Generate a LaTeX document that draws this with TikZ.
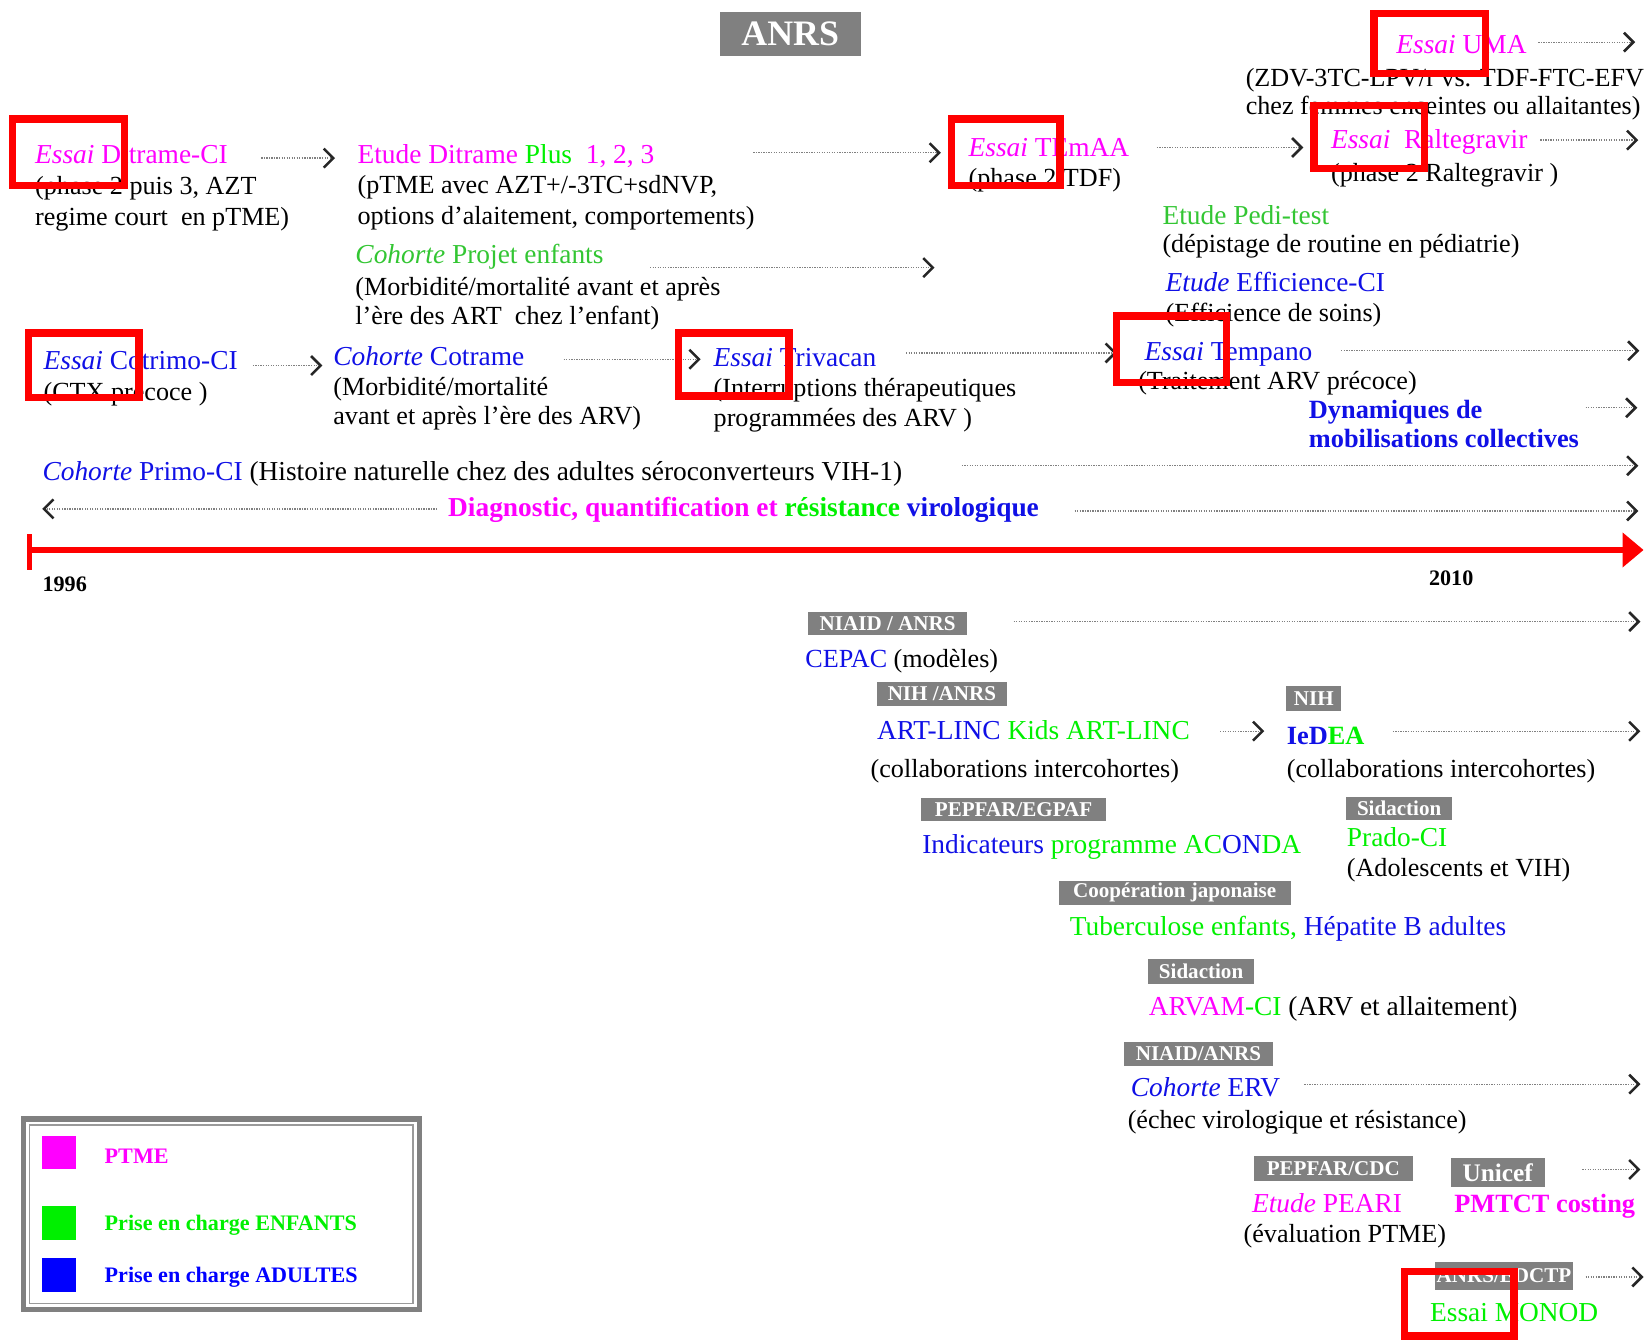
\documentclass[tikz,border=0pt]{standalone}
\usepackage{fontspec}
\setmainfont{Liberation Serif}
\usetikzlibrary{arrows.meta}
\definecolor{mag}{HTML}{FF00FF}
\definecolor{grn}{HTML}{00F000}
\definecolor{dgrn}{HTML}{33C633}
\definecolor{blu}{HTML}{1010E6}
\definecolor{pblu}{HTML}{0000FF}
\definecolor{lblgray}{HTML}{808080}
\begin{document}
\begin{tikzpicture}[x=0.5pt,y=-0.5pt,
 txt/.style={anchor=base west, inner sep=0pt, font=\fontsize{12.4}{15}\selectfont},
 hd/.style={anchor=base west, inner sep=0pt, font=\fontsize{13}{15}\selectfont},
 bd/.style={anchor=base west, inner sep=0pt, font=\bfseries\fontsize{12.5}{15}\selectfont},
 yr/.style={anchor=base west, inner sep=0pt, font=\bfseries\fontsize{10.5}{12}\selectfont},
 leg/.style={anchor=base west, inner sep=0pt, font=\bfseries\fontsize{10.5}{12}\selectfont},
 lbl/.style={fill=lblgray, text=white, font=\bfseries\fontsize{10}{12}\selectfont, inner sep=0pt, anchor=center},
 redbox/.style={draw=red, line width=3.5pt},
 darr/.style={draw=black!50, line width=0.6pt, dash pattern=on 0.6pt off 0.6pt,
   -{Straight Barb[length=4.5pt,width=9pt,line width=1.2pt,color=black!85]}},
]
\useasboundingbox (0,0) rectangle (1568,1275);
\fill[white] (0,0) rectangle (1568,1275);

% title
\node[lbl, font=\bfseries\fontsize{17}{20}\selectfont, minimum width=67pt, minimum height=21pt] (anrs) at (750,32) {ANRS};

% ---------- upper part ----------
\node[hd, text=mag] (uma) at (1325,51) {\textit{Essai} UMA};
\node[txt] (uma1) at (1182,82) {(ZDV-3TC-LPV/r vs. TDF-FTC-EFV};
\node[txt] (uma2) at (1182,109) {chez femmes enceintes ou allaitantes)};

\node[hd, text=mag] (dit) at (33,155) {\textit{Essai} Ditrame-CI};
\node[txt] (dit1) at (33,185) {(phase 2 puis 3, AZT};
\node[txt] (dit2) at (33,214) {regime court\ \ en pTME)};

\node[hd, text=mag] (ditp) at (339,155) {Etude Ditrame \textcolor{grn}{Plus}\ \ 1, 2, 3};
\node[txt] (ditp1) at (339,184) {(pTME avec AZT+/-3TC+sdNVP,};
\node[txt] (ditp2) at (339,213) {options d’alaitement, comportements)};

\node[hd, text=mag] (tem) at (919,149) {\textit{Essai} TEmAA};
\node[txt] (tem1) at (919,177) {(phase 2 TDF)};

\node[hd, text=mag] (ral) at (1263,141) {\textit{Essai}\ \ Raltegravir};
\node[txt] (ral1) at (1263,172) {(phase 2 Raltegravir )};

\node[hd, text=dgrn] (proj) at (337,250) {\textit{Cohorte} Projet enfants};
\node[txt] (proj1) at (337,280) {(Morbidité/mortalité avant et après};
\node[txt] (proj2) at (337,308) {l’ère des ART\ \ chez l’enfant)};

\node[hd, text=dgrn] (pedi) at (1103,213) {Etude Pedi-test};
\node[txt] (pedi1) at (1103,240) {(dépistage de routine en pédiatrie)};

\node[hd, text=blu] (eff) at (1106,277) {\textit{Etude} Efficience-CI};
\node[txt] (eff1) at (1106,305) {(Efficience de soins)};

\node[hd, text=blu] (cot) at (41,351) {\textit{Essai} Cotrimo-CI};
\node[txt] (cot1) at (41,380) {(CTX précoce )};

\node[hd, text=blu] (ctr) at (316,347) {\textit{Cohorte} Cotrame};
\node[txt] (ctr1) at (316,375) {(Morbidité/mortalité};
\node[txt] (ctr2) at (316,403) {avant et après l’ère des ARV)};

\node[hd, text=blu] (tri) at (677,348) {\textit{Essai} Trivacan};
\node[txt] (tri1) at (677,376) {(Interruptions thérapeutiques};
\node[txt] (tri2) at (677,405) {programmées des ARV )};

\node[hd, text=blu] (tmp) at (1086,342) {\textit{Essai} Tempano};
\node[txt] (tmp1) at (1080,370) {(Traitement ARV précoce)};

\node[bd, text=blu] (dyn1) at (1242,397) {Dynamiques de};
\node[bd, text=blu] (dyn2) at (1242,425) {mobilisations collectives};

\node[hd] (primo) at (40,456) {\textcolor{blu}{\textit{Cohorte} Primo-CI} (Histoire naturelle chez des adultes séroconverteurs VIH-1)};

\node[bd, font=\bfseries\fontsize{13}{15}\selectfont] (diag) at (425,490) {\textcolor{mag}{Diagnostic, quantification et} \textcolor{grn}{résistance} \textcolor{blu}{virologique}};

% arrow end points
\coordinate (a1s) at (1460,40);  \coordinate (a1e) at (1552,40);
\coordinate (a2s) at (248,150);  \coordinate (a2e) at (318,150);
\coordinate (a3s) at (715,145);  \coordinate (a3e) at (893,145);
\coordinate (a4s) at (1098,140); \coordinate (a4e) at (1237,140);
\coordinate (a5s) at (1462,133); \coordinate (a5e) at (1555,133);
\coordinate (a6s) at (617,254);  \coordinate (a6e) at (887,254);
\coordinate (a7s) at (240,347);  \coordinate (a7e) at (306,347);
\coordinate (a8s) at (535,341);  \coordinate (a8e) at (665,341);
\coordinate (a9s) at (860,335);  \coordinate (a9e) at (1060,335);
\coordinate (a10s) at (1273,333); \coordinate (a10e) at (1556,333);
\coordinate (a11s) at (1505,387); \coordinate (a11e) at (1554,387);
\coordinate (a12s) at (913,442);  \coordinate (a12e) at (1555,442);
\coordinate (a13s) at (415,483);  \coordinate (a13e) at (40,483);
\coordinate (a14s) at (1020,485); \coordinate (a14e) at (1555,485);

\draw[darr] (a1s) -- (a1e);
\draw[darr] (a2s) -- (a2e);
\draw[darr] (a3s) -- (a3e);
\draw[darr] (a4s) -- (a4e);
\draw[darr] (a5s) -- (a5e);
\draw[darr] (a6s) -- (a6e);
\draw[darr] (a7s) -- (a7e);
\draw[darr] (a8s) -- (a8e);
\draw[darr] (a9s) -- (a9e);
\draw[darr] (a10s) -- (a10e);
\draw[darr] (a11s) -- (a11e);
\draw[darr] (a12s) -- (a12e);
\draw[darr] (a13s) -- (a13e);
\draw[darr] (a14s) -- (a14e);

% timeline
\coordinate (tl0) at (28,522); \coordinate (tl1) at (1560,522);
\coordinate (tk0) at (28,507); \coordinate (tk1) at (28,541);
\draw[red, line width=3pt, -{Triangle[length=10pt,width=16pt]}] (tl0) -- (tl1);
\draw[red, line width=2pt] (tk0) -- (tk1);
\node[yr] (y1996) at (40,561) {1996};
\node[yr] (y2010) at (1356,556) {2010};

% ---------- lower part ----------
\node[lbl, minimum width=75.5pt, minimum height=11pt] (l1) at (842.5,592) {NIAID / ANRS};
\node[txt] (cepac) at (764,634) {\textcolor{blu}{CEPAC} (modèles)};
\node[lbl, minimum width=62pt, minimum height=11.5pt] (l2) at (894,658.5) {NIH /ANRS};
\node[lbl, minimum width=26pt, minimum height=12pt] (l3) at (1247,663) {NIH};
\node[hd] (artl) at (832,702) {\textcolor{blu}{ART-LINC} \textcolor{grn}{Kids ART-LINC}};
\node[bd] (iedea) at (1221,707) {\textcolor{blu}{IeD}\textcolor{grn}{EA}};
\node[txt] (coll1) at (826,738) {(collaborations intercohortes)};
\node[txt] (coll2) at (1221,738) {(collaborations intercohortes)};
\node[lbl, minimum width=88pt, minimum height=11pt] (l4) at (962,768) {PEPFAR/EGPAF};
\node[lbl, minimum width=50pt, minimum height=11pt] (l5) at (1328,767) {Sidaction};
\node[hd] (indic) at (875,810) {\textcolor{blu}{Indicateurs} \textcolor{grn}{programme AC}\textcolor{blu}{ON}\textcolor{grn}{DA}};
\node[hd, text=grn] (prado) at (1278,803) {Prado-CI};
\node[txt] (prado1) at (1278,832) {(Adolescents et VIH)};
\node[lbl, minimum width=110pt, minimum height=11.5pt] (l6) at (1115,847.5) {Coopération japonaise};
\node[hd] (tub) at (1015,888) {\textcolor{grn}{Tuberculose enfants,} \textcolor{blu}{Hépatite B adultes}};
\node[lbl, minimum width=50pt, minimum height=12pt] (l7) at (1140,922) {Sidaction};
\node[hd] (arvam) at (1090,964) {\textcolor{mag}{ARVAM}\textcolor{grn}{-CI} (ARV et allaitement)};
\node[lbl, minimum width=70.5pt, minimum height=11.5pt] (l8) at (1137.5,1000.5) {NIAID/ANRS};
\node[hd, text=blu] (erv) at (1073,1041) {\textit{Cohorte} ERV};
\node[txt] (erv1) at (1070,1071) {(échec virologique et résistance)};
\node[lbl, minimum width=75.5pt, minimum height=12pt] (l9) at (1265.5,1109) {PEPFAR/CDC};
\node[lbl, font=\bfseries\fontsize{12}{14}\selectfont, minimum width=44.5pt, minimum height=14pt] (l10) at (1421.5,1113) {Unicef};
\node[hd, text=mag] (pearl) at (1188,1151) {\textit{Etude} PEARI};
\node[bd, text=mag] (pmtct) at (1380,1151) {PMTCT costing};
\node[txt] (pearl1) at (1180,1179) {(évaluation PTME)};
\node[lbl, minimum width=65.5pt, minimum height=13pt] (l11) at (1427.5,1211) {ANRS/EDCTP};
\node[hd, text=grn] (monod) at (1357,1254) {Essai MONOD};

\coordinate (b1s) at (962,590);   \coordinate (b1e) at (1557,590);
\coordinate (b2s) at (1158,694);  \coordinate (b2e) at (1200,694);
\coordinate (b3s) at (1322,694);  \coordinate (b3e) at (1557,694);
\coordinate (b4s) at (1238,1029); \coordinate (b4e) at (1557,1029);
\coordinate (b5s) at (1502,1110); \coordinate (b5e) at (1557,1110);
\coordinate (b6s) at (1505,1212); \coordinate (b6e) at (1560,1212);
\draw[darr] (b1s) -- (b1e);
\draw[darr] (b2s) -- (b2e);
\draw[darr] (b3s) -- (b3e);
\draw[darr] (b4s) -- (b4e);
\draw[darr] (b5s) -- (b5e);
\draw[darr] (b6s) -- (b6e);

% ---------- legend ----------
\draw[lblgray, line width=2.5pt] (22,1062) rectangle (398,1243);
\draw[lblgray!80, line width=0.7pt] (28,1068) rectangle (392,1237);
\fill[mag] (40,1078) rectangle (72,1110);
\fill[grn] (40,1145) rectangle (72,1177);
\fill[pblu] (40,1194) rectangle (72,1226);
\node[leg, text=mag] (lg1) at (99,1104) {PTME};
\node[leg, text=grn] (lg2) at (99,1168) {Prise en charge ENFANTS};
\node[leg, text=pblu] (lg3) at (99,1217) {Prise en charge ADULTES};

% ---------- red highlight boxes ----------
\draw[redbox] (1304,13) rectangle (1410,70);
\draw[redbox] (12,113) rectangle (118,176);
\draw[redbox] (903,113) rectangle (1006,176);
\draw[redbox] (1247,100) rectangle (1352,160);
\draw[redbox] (27,316) rectangle (132,377);
\draw[redbox] (644,316) rectangle (749,376);
\draw[redbox] (1060,300) rectangle (1164,363);
\draw[redbox] (1333,1207) rectangle (1437,1268);
\end{tikzpicture}
\end{document}
